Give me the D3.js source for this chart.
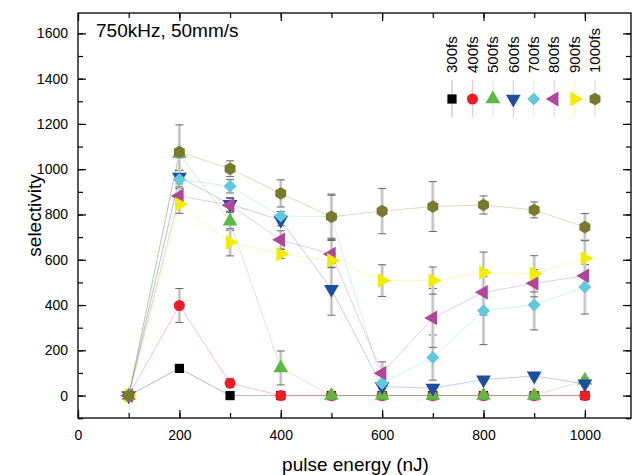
<!DOCTYPE html>
<html>
<head>
<meta charset="utf-8">
<script src="https://cdn.jsdelivr.net/npm/d3@7"></script>
<style>
  body { margin: 0; background: #fff; }
  text { font-family: "Liberation Sans", Arial, sans-serif; fill: #000; }
</style>
</head>
<body>
<div id="chart"></div>
<script>
// pulse energy (nJ)
var energies = [100, 200, 300, 400, 500, 600, 700, 800, 900, 1000];
var pulseWidths = ["300fs", "400fs", "500fs", "600fs", "700fs", "800fs", "900fs", "1000fs"];

var sel300 = [0, 120, 0, 0, 0, 0, 0, 0, 0, 0];
var err300 = [0, 10, 5, 0, 0, 0, 0, 0, 0, 0];
var sel400 = [0, 398, 55, 0, 0, 0, 0, 0, 0, 0];
var err400 = [0, 75, 20, 0, 0, 0, 0, 0, 0, 0];
var sel500 = [0, 1070, 770, 122, 0, 0, 0, 0, 0, 68];
var err500 = [0, 20, 40, 75, 0, 0, 0, 0, 0, 10];
var sel600 = [0, 965, 845, 775, 470, 40, 33, 70, 87, 52];
var err600 = [0, 30, 30, 25, 115, 10, 15, 10, 10, 10];
var sel700 = [0, 955, 925, 793, 790, 55, 168, 375, 400, 480];
var err700 = [0, 40, 30, 20, 100, 40, 100, 150, 110, 120];
var sel800 = [0, 882, 841, 688, 625, 99, 343, 456, 496, 529];
var err800 = [0, 40, 30, 40, 60, 50, 130, 100, 60, 50];
var sel900 = [0, 845, 677, 625, 597, 508, 508, 544, 538, 607];
var err900 = [0, 40, 60, 20, 30, 70, 60, 90, 80, 80];
var sel1000 = [0, 1076, 1002, 893, 790, 815, 835, 842, 820, 744];
var err1000 = [0, 120, 35, 60, 95, 100, 110, 40, 35, 60];

var xTickLabels = [0, 200, 400, 600, 800, 1000];
var yTickLabels = [0, 200, 400, 600, 800, 1000, 1200, 1400, 1600];

function drawChart() {
  var width = 633, height = 475;
  var left = 78, right = 631, top = 13, bottom = 418;

  var colors = ["#000000", "#ee1c25", "#5cb946", "#1f4e9e", "#62c9dc", "#b0469c", "#f4ec00", "#787a2e"];
  var shapes = ["square", "circle", "up", "down", "diamond", "left", "right", "hex"];
  var values = [sel300, sel400, sel500, sel600, sel700, sel800, sel900, sel1000];
  var errors = [err300, err400, err500, err600, err700, err800, err900, err1000];

  var series = pulseWidths.map(function(name, i) {
    return {
      name: name, color: colors[i], shape: shapes[i],
      points: energies.map(function(e, j) { return {x: e, y: values[i][j], err: errors[i][j]}; })
    };
  });

  var x = d3.scaleLinear().domain([0, 1091]).range([left, right]);
  var y = d3.scaleLinear().domain([-99, 1690]).range([bottom, top]);

  var svg = d3.select("#chart").append("svg")
      .attr("width", width)
      .attr("height", height);

  function symbolPath(shape) {
    if (shape == "square") return d3.symbol().type(d3.symbolSquare).size(85)();
    if (shape == "circle") return d3.symbol().type(d3.symbolCircle).size(95)();
    if (shape == "diamond") return "M0,-6.5L6.5,0L0,6.5L-6.5,0Z";
    if (shape == "hex") {
      var r = 6.3, pts = [];
      for (var k = 0; k < 6; k++) {
        var a = Math.PI / 6 + k * Math.PI / 3;
        pts.push([r * Math.cos(a), r * Math.sin(a)]);
      }
      return "M" + pts.join("L") + "Z";
    }
    return d3.symbol().type(d3.symbolTriangle).size(95)();
  }
  function rot(shape) {
    if (shape == "down") return 180;
    if (shape == "left") return -90;
    if (shape == "right") return 90;
    return 0;
  }

  // axes: all ticks point inward
  var minorX = d3.range(0, 1100, 100), minorY = d3.range(-100, 1700, 100);
  var xAxis = d3.axisBottom(x).tickValues(xTickLabels).tickSize(-8).tickPadding(12).tickFormat(d3.format("d"));
  var yAxis = d3.axisLeft(y).tickValues(yTickLabels).tickSize(-8).tickPadding(10).tickFormat(d3.format("d"));

  svg.append("g").attr("transform", "translate(0," + bottom + ")")
    .call(d3.axisBottom(x).tickValues(minorX).tickSize(-5).tickFormat(""));
  svg.append("g").attr("class", "xAxis").attr("transform", "translate(0," + bottom + ")").call(xAxis);
  svg.append("g").attr("transform", "translate(0," + top + ")")
    .call(d3.axisTop(x).tickValues(minorX).tickSize(-5).tickFormat(""));
  svg.append("g").attr("transform", "translate(0," + top + ")")
    .call(d3.axisTop(x).tickValues(xTickLabels).tickSize(-8).tickFormat(""));

  svg.append("g").attr("transform", "translate(" + left + ",0)")
    .call(d3.axisLeft(y).tickValues(minorY).tickSize(-5).tickFormat(""));
  svg.append("g").attr("class", "yAxis").attr("transform", "translate(" + left + ",0)").call(yAxis);
  svg.append("g").attr("transform", "translate(" + right + ",0)")
    .call(d3.axisRight(y).tickValues(minorY).tickSize(-5).tickFormat(""));
  svg.append("g").attr("transform", "translate(" + right + ",0)")
    .call(d3.axisRight(y).tickValues(yTickLabels).tickSize(-8).tickFormat(""));

  svg.selectAll(".domain").remove();
  svg.selectAll(".tick line").attr("stroke", "#000").attr("stroke-width", 1.2);
  svg.selectAll(".tick text").style("font-size", "14px").style("font-family", "'Liberation Sans', Arial, sans-serif");

  svg.append("rect")
    .attr("x", left).attr("y", top)
    .attr("width", right - left).attr("height", bottom - top)
    .attr("fill", "none").attr("stroke", "#000").attr("stroke-width", 1.3);

  var line = d3.line().x(function(d) { return x(d.x); }).y(function(d) { return y(d.y); });

  // connecting lines
  svg.selectAll(".serLine")
    .data(series)
    .enter()
    .append("path")
    .attr("class", "serLine")
    .attr("d", function(d) { return line(d.points); })
    .attr("fill", "none")
    .attr("stroke", function(d) { return d.color; })
    .attr("stroke-opacity", 0.35)
    .attr("stroke-width", 0.8);

  // error bars
  series.forEach(function(s) {
    var g = svg.append("g").attr("class", "errBars");
    var pts = s.points.filter(function(p) { return p.err > 0; });
    g.selectAll(".errBg").data(pts).enter().append("line")
      .attr("x1", function(d) { return x(d.x); }).attr("x2", function(d) { return x(d.x); })
      .attr("y1", function(d) { return y(d.y - d.err); }).attr("y2", function(d) { return y(d.y + d.err); })
      .attr("stroke", "#dddddd").attr("stroke-width", 3.5);
    g.selectAll(".errLine").data(pts).enter().append("line")
      .attr("x1", function(d) { return x(d.x); }).attr("x2", function(d) { return x(d.x); })
      .attr("y1", function(d) { return y(d.y - d.err); }).attr("y2", function(d) { return y(d.y + d.err); })
      .attr("stroke", "#999").attr("stroke-width", 0.6);
    [-1, 1].forEach(function(sign) {
      g.selectAll(".cap" + sign).data(pts).enter().append("line")
        .attr("x1", function(d) { return x(d.x) - 4; }).attr("x2", function(d) { return x(d.x) + 4; })
        .attr("y1", function(d) { return y(d.y + sign * d.err); }).attr("y2", function(d) { return y(d.y + sign * d.err); })
        .attr("stroke", "#666").attr("stroke-width", 1);
    });
  });

  // markers
  series.forEach(function(s) {
    svg.append("g").selectAll("path")
      .data(s.points)
      .enter()
      .append("path")
      .attr("d", symbolPath(s.shape))
      .attr("transform", function(d) { return "translate(" + x(d.x) + "," + y(d.y) + ") rotate(" + rot(s.shape) + ")"; })
      .attr("fill", s.color);
  });

  // legend
  var legX = d3.scalePoint().domain(pulseWidths).range([452, 595]);
  var leg = svg.selectAll(".legItem")
    .data(series)
    .enter()
    .append("g")
    .attr("class", "legItem")
    .attr("transform", function(d) { return "translate(" + legX(d.name) + ",99)"; });
  leg.append("line")
    .attr("y1", -19).attr("y2", 18)
    .attr("stroke", function(d) { return d.color; })
    .attr("stroke-opacity", 0.35).attr("stroke-width", 0.8);
  leg.append("path")
    .attr("d", function(d) { return symbolPath(d.shape); })
    .attr("transform", function(d) { return "rotate(" + rot(d.shape) + ")"; })
    .attr("fill", function(d) { return d.color; });
  leg.append("text")
    .attr("transform", "translate(0,-26) rotate(-90)")
    .attr("dy", "0.35em")
    .style("font-size", "15px")
    .style("text-anchor", "start")
    .text(function(d) { return d.name; });

  // titles
  svg.append("text")
    .attr("x", 96).attr("y", 37)
    .style("font-size", "19px")
    .text("750kHz, 50mm/s");

  svg.append("text")
    .attr("class", "axisText")
    .attr("x", (left + right) / 2 + 1).attr("y", 471)
    .style("text-anchor", "middle")
    .style("font-size", "19px")
    .text("pulse energy (nJ)");

  svg.append("text")
    .attr("class", "axisText")
    .attr("transform", "translate(41," + ((top + bottom) / 2) + ") rotate(-90)")
    .style("text-anchor", "middle")
    .style("font-size", "19px")
    .text("selectivity");
}

drawChart();
</script>
</body>
</html>
